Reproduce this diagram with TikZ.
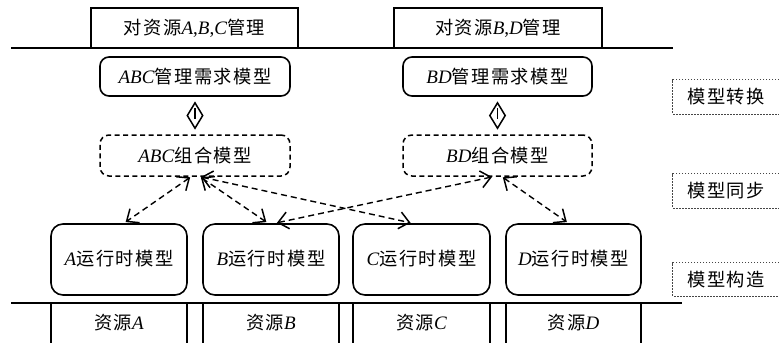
\documentclass[tikz,border=0pt]{standalone}
\usepackage{fontspec}
\setmainfont{Liberation Serif}
\newfontfamily\cjk[Scale=0.96,LetterSpace=8]{Noto Sans CJK SC}
\usetikzlibrary{arrows.meta,shapes.geometric,calc}
\newcommand{\zh}[1]{{\cjk #1}}
\newcommand{\la}[1]{\textit{#1}}
\begin{document}
\begin{tikzpicture}[x=1pt,y=-1pt,font=\fontsize{19}{22}\selectfont,
  topbox/.style={draw,line width=1.5pt,minimum height=40pt,inner sep=0pt},
  reqbox/.style={draw,line width=1.6pt,rounded corners=9pt,minimum height=39pt,inner sep=0pt},
  cmpbox/.style={draw,line width=1.5pt,dash pattern=on 5pt off 3.5pt,rounded corners=9pt,minimum height=41pt,inner sep=0pt},
  runbox/.style={draw,line width=1.6pt,rounded corners=12pt,minimum height=71pt,inner sep=0pt},
  resbox/.style={minimum height=40pt,inner sep=0pt},
  lblbox/.style={minimum width=106pt,inner sep=0pt},
  lblline/.style={line width=0.9pt,gray!55!black,dash pattern=on 1.6pt off 1.4pt},
  sync/.style={line width=1.4pt,dash pattern=on 6pt off 4pt,
    arrows={Straight Barb[length=10pt,width=17pt,line width=1.5pt]-Straight Barb[length=10pt,width=17pt,line width=1.5pt]},
    shorten <=1pt, shorten >=2pt},
  dmd/.style={draw,diamond,line width=1.5pt,minimum width=16pt,minimum height=26pt,inner sep=0pt,aspect=0.6}
]
\useasboundingbox (0,0) rectangle (779,343);

% top management boxes
\node[topbox,minimum width=207pt] (topabc) at (194.5,28) {\zh{对资源}\la{A},\la{B},\la{C}\zh{管理}};
\node[topbox,minimum width=208pt] (topbd) at (498,28) {\zh{对资源}\la{B},\la{D}\zh{管理}};
\coordinate (tl1) at (11,48);
\coordinate (tl2) at (673,48);
\draw[line width=1.5pt] (tl1) -- (tl2);

% requirement models
\node[reqbox,minimum width=190pt] (reqabc) at (195,76.5) {\la{ABC}\zh{管理需求模型}};
\node[reqbox,minimum width=189pt] (reqbd) at (497.5,76.5) {\la{BD}\zh{管理需求模型}};

% composite models
\node[cmpbox,minimum width=190pt] (cmpabc) at (195,155.5) {\la{ABC}\zh{组合模型}};
\node[cmpbox,minimum width=189pt] (cmpbd) at (497.5,155.5) {\la{BD}\zh{组合模型}};

% transformation diamonds
\node[dmd] (dabc) at ($(reqabc.south)!0.5!(cmpabc.north)$) {};
\node[dmd] (dbd) at ($(reqbd.south)!0.5!(cmpbd.north)$) {};
\draw[line width=1.5pt] ([yshift=-3pt]dabc.center) -- ([yshift=8pt]dabc.center);
\draw[line width=1.5pt] ([yshift=-3pt]dbd.center) -- ([yshift=8pt]dbd.center);

% runtime models
\node[runbox,minimum width=136pt] (ra) at (119,259.5) {\raisebox{3pt}{\la{A}\zh{运行时模型}}};
\node[runbox,minimum width=136pt] (rb) at (271,259.5) {\raisebox{3pt}{\la{B}\zh{运行时模型}}};
\node[runbox,minimum width=137pt] (rc) at (421.5,259.5) {\raisebox{3pt}{\la{C}\zh{运行时模型}}};
\node[runbox,minimum width=135pt] (rd) at (573.5,259.5) {\raisebox{3pt}{\la{D}\zh{运行时模型}}};

% bottom line and resources
\coordinate (bl1) at (11,303);
\coordinate (bl2) at (682,303);
\draw[line width=1.7pt] (bl1) -- (bl2);
\node[resbox,minimum width=136pt] (sa) at (119,323) {\zh{资源}\la{A}};
\node[resbox,minimum width=136pt] (sb) at (271,323) {\zh{资源}\la{B}};
\node[resbox,minimum width=137pt] (sc) at (421.5,323) {\zh{资源}\la{C}};
\node[resbox,minimum width=135pt] (sd) at (573.5,323) {\zh{资源}\la{D}};
\foreach \s in {sa,sb,sc,sd}{
  \draw[line width=1.5pt] (\s.north west) -- (\s.south west) (\s.north east) -- (\s.south east);
}

% synchronisation arrows
\draw[sync] ([xshift=-4pt]cmpabc.south) -- ([xshift=5pt]ra.north);
\draw[sync] ([xshift=5pt]cmpabc.south) -- ([xshift=-3pt]rb.north);
\draw[sync] ([xshift=5pt]cmpabc.south) -- ([xshift=-9pt]rc.north);
\draw[sync] ([xshift=-4.5pt]cmpbd.south) -- ([xshift=4pt]rb.north);
\draw[sync] ([xshift=4.5pt]cmpbd.south) -- ([xshift=-5pt]rd.north);

% right-hand labels
\node[lblbox,minimum height=34pt] (l1) at (726,97) {\zh{模型转换}};
\node[lblbox,minimum height=34pt] (l2) at (726,191) {\zh{模型同步}};
\node[lblbox,minimum height=33pt] (l3) at (726,279.5) {\zh{模型构造}};
\foreach \l in {l1,l2,l3}{
  \draw[lblline] (\l.north east) -- (\l.north west) -- (\l.south west) -- (\l.south east);
}
\end{tikzpicture}
\end{document}
